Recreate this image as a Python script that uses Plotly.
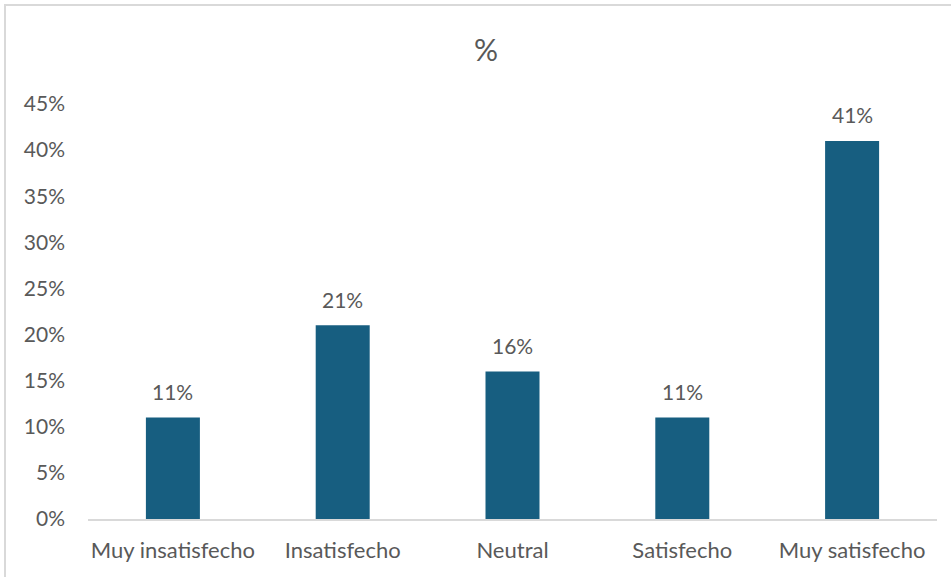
import plotly.graph_objects as go

categories = ["Muy insatisfecho", "Insatisfecho", "Neutral", "Satisfecho", "Muy satisfecho"]
values = [0.11, 0.21, 0.16, 0.11, 0.41]
labels = ["11%", "21%", "16%", "11%", "41%"]
tick_vals = [0, 0.05, 0.10, 0.15, 0.20, 0.25, 0.30, 0.35, 0.40, 0.45]
tick_text = ["0%", "5%", "10%", "15%", "20%", "25%", "30%", "35%", "40%", "45%"]

FONT = "Lato, 'Open Sans', sans-serif"
GREY = "#595959"
FS = 21

fig = go.Figure(go.Bar(
    x=categories, y=values,
    marker=dict(color="#175e80", line=dict(width=0)),
    cliponaxis=False,
))

for c, v, t in zip(categories, values, labels):
    fig.add_annotation(x=c, y=v, text=t, showarrow=False, yanchor="middle", yshift=26,
                       font=dict(size=FS, color=GREY, family=FONT))

fig.update_layout(
    width=951, height=577,
    margin=dict(l=88, r=14, t=104, b=58),
    paper_bgcolor="white", plot_bgcolor="white",
    bargap=0.682,
    showlegend=False,
    title=dict(text="%", x=486/951, xanchor="center", y=1-50/577, yanchor="middle",
               font=dict(size=30, color=GREY, family=FONT)),
    font=dict(family=FONT, color=GREY, size=FS),
    xaxis=dict(showline=True, linecolor="#d9d9d9", linewidth=2, showgrid=False,
               ticks="", tickfont=dict(size=22, color=GREY, family=FONT),
               ticklabelstandoff=11, fixedrange=True),
    yaxis=dict(range=[0, 0.45], tickvals=tick_vals, ticktext=tick_text,
               showgrid=False, zeroline=False, showline=False, ticks="",
               tickfont=dict(size=FS, color=GREY, family=FONT),
               ticklabelstandoff=22),
    shapes=[dict(type="rect", xref="paper", yref="paper",
                 x0=-83/849, x1=1 + 20/849, y0=-60/415, y1=1 + 99/415,
                 line=dict(color="#d9d9d9", width=2), fillcolor="rgba(0,0,0,0)", layer="below")],
)

fig.write_html("out.html")
